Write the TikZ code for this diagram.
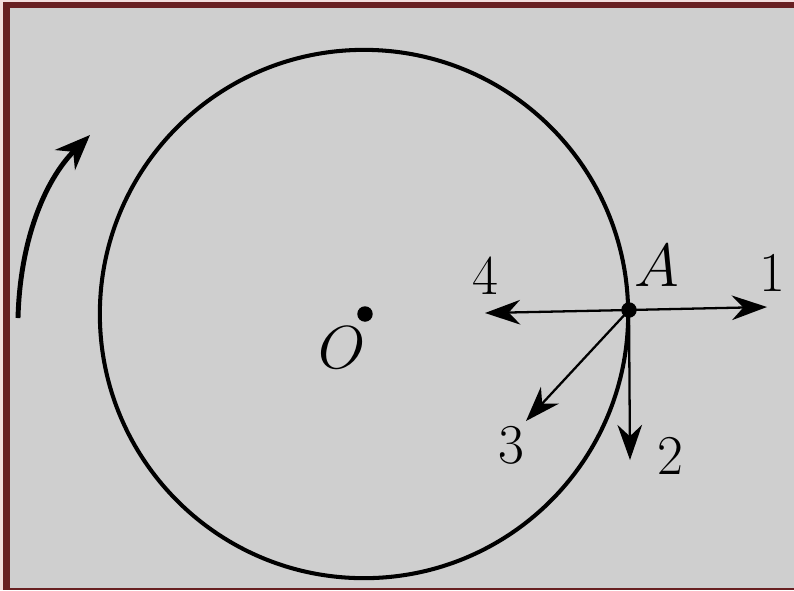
\documentclass[tikz,border=0pt]{standalone}
\definecolor{framered}{RGB}{104,32,34}
\definecolor{palepink}{RGB}{242,222,222}
\definecolor{paper}{RGB}{207,207,207}
\usetikzlibrary{arrows.meta}

\begin{document}
\begin{tikzpicture}[x=0.01cm, y=-0.01cm,
      vec/.style={-{Stealth[length=10pt, width=7pt]}, line width=0.65pt},
      lab/.style={font=\fontsize{16}{19}\selectfont, inner sep=0pt},
      rim/.style={line width=1.15pt}
    ]
    % background and frame
    \useasboundingbox (0,0) rectangle (794,590);
    \clip (0,0) rectangle (794,590);
    \fill[palepink] (0,0) rectangle (794,590);
    \fill[framered] (3,2) rectangle (810,590);
    \fill[paper] (10,8) rectangle (810,588);
    % wheel
    \node[circle, draw, rim, minimum size=5.28cm, inner sep=0pt] (wheel) at (364,314) {};
    \fill (365,314) circle (2.2pt);
    \coordinate (O) at (365,314);
    \node[lab, font=\fontsize{16}{19}\selectfont\itshape] (olab) at (342,348) {$O$};
    % point A on the rim
    \coordinate (A) at (629,310);
    \fill (A) circle (2.2pt);
    \node[lab] (alab) at (657,266) {$A$};
    % velocity candidates
    \coordinate (t1) at (767,307);
    \coordinate (t2) at (630,460);
    \coordinate (t3) at (526,421);
    \coordinate (t4) at (485,313);
    \draw[vec] (A) -- (t1);
    \draw[vec] (A) -- (t2);
    \draw[vec] (A) -- (t3);
    \draw[vec] (A) -- (t4);
    \node[lab] (n1) at (772,273) {1};
    \node[lab] (n2) at (670,456) {2};
    \node[lab] (n3) at (511,445) {3};
    \node[lab] (n4) at (485,276) {4};
    % sense of rotation
    \coordinate (r0) at (18,318);
    \coordinate (r1) at (90,135);
    \draw[-{Stealth[length=10pt, width=8pt]}, line width=1.4pt]
      (r0) .. controls (20,240) and (45,180) .. (r1);
  \end{tikzpicture}
\end{document}
